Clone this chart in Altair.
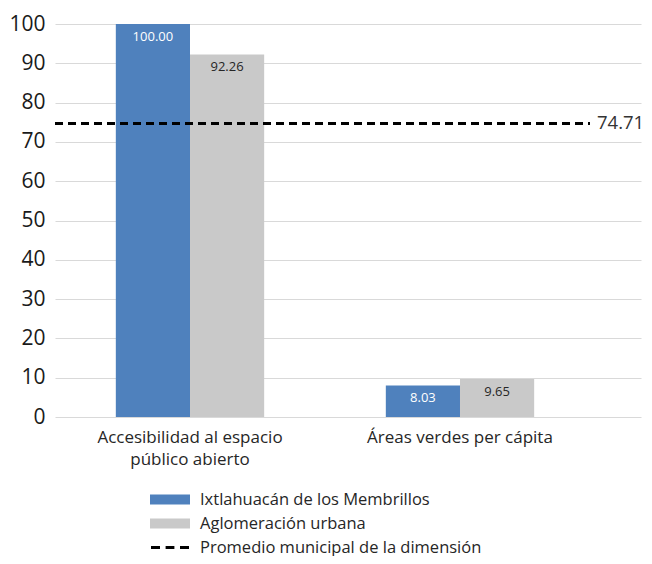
import altair as alt
import pandas as pd

categorias = ["Accesibilidad al espacio público abierto", "Áreas verdes per cápita"]
series = ["Ixtlahuacán de los Membrillos", "Aglomeración urbana"]
valores_municipio = [100.00, 8.03]
valores_aglomeracion = [92.26, 9.65]
promedio = 74.71
serie_linea = "Promedio municipal de la dimensión"

colores = ["#4F81BD", "#C9C9C9", "#000000"]
FONT = "Open Sans"

rows = []
for c, a, b in zip(categorias, valores_municipio, valores_aglomeracion):
    rows.append({"cat": c, "serie": series[0], "valor": a, "txt": f"{a:.2f}", "tc": "white"})
    rows.append({"cat": c, "serie": series[1], "valor": b, "txt": f"{b:.2f}", "tc": "#262626"})
df = pd.DataFrame(rows)

leyenda = pd.DataFrame({"serie": series + [serie_linea], "cat": [categorias[0]] * 3, "valor": [0, 0, 0]})
prom_df = pd.DataFrame({"valor": [promedio], "txt": [f"{promedio:.2f}"]})

label_expr = ("datum.value == 'Accesibilidad al espacio público abierto' ? "
              "['Accesibilidad al espacio', 'público abierto'] : datum.value")

x_axis = alt.Axis(labelAngle=0, domain=False, ticks=False, labelPadding=12, grid=False,
                  labelFontSize=17, labelColor="#262626", labelFont=FONT,
                  labelLineHeight=22, labelExpr=label_expr, labelLimit=400)
y_axis = alt.Axis(values=list(range(0, 101, 10)), domain=False, ticks=False,
                  labelPadding=10, labelFontSize=21, labelColor="#1a1a1a",
                  labelFont=FONT, gridColor="#D9D9D9", gridWidth=1)

x_scale = alt.Scale(domain=categorias, paddingInner=0, paddingOuter=0.0852, align=0)
xo_scale = alt.Scale(domain=series, paddingOuter=0.82, paddingInner=0)
y_scale = alt.Scale(domain=[0, 100])
color_scale = alt.Scale(domain=series + [serie_linea], range=colores)

rect_path = "M-1,-0.25H1V0.25H-1Z"
dash_path = ("M-0.95,-0.07H-0.5V0.07H-0.95Z M-0.22,-0.07H0.22V0.07H-0.22Z "
             "M0.5,-0.07H0.95V0.07H0.5Z")
shape_scale = alt.Scale(domain=series + [serie_linea], range=[rect_path, rect_path, dash_path])

leg = alt.Legend(title=None, orient="none", legendX=95, legendY=463.5,
                 labelFontSize=16.5, labelColor="#262626", labelFont=FONT,
                 symbolSize=1600, symbolStrokeWidth=0, labelOffset=10,
                 rowPadding=0, clipHeight=24, symbolOpacity=1, labelLimit=400)

X = alt.X("cat:N", scale=x_scale, sort=categorias, title=None, axis=x_axis)
Y = alt.Y("valor:Q", scale=y_scale, title=None, axis=y_axis)

bars = alt.Chart(df).mark_bar().encode(
    x=X,
    xOffset=alt.XOffset("serie:N", scale=xo_scale, sort=series),
    y=Y,
    color=alt.Color("serie:N", scale=color_scale, legend=leg),
)

labels = alt.Chart(df).mark_text(baseline="top", dy=7, fontSize=13, font=FONT).encode(
    x=X,
    xOffset=alt.XOffset("serie:N", scale=xo_scale, sort=series),
    y=Y,
    text="txt:N",
    color=alt.Color("tc:N", scale=None),
)

linea = alt.Chart(prom_df).mark_rule(color="black", strokeWidth=3, strokeDash=[8, 5]).encode(
    y=Y,
    x=alt.value(0),
    x2=alt.value(535),
)

linea_txt = alt.Chart(prom_df).mark_text(align="left", baseline="middle", fontSize=18.5,
                                         color="#333333", font=FONT).encode(
    y=Y,
    x=alt.value(542),
    text="txt:N",
)

ley = alt.Chart(leyenda).mark_point(opacity=0, filled=True).encode(
    x=X,
    y=Y,
    color=alt.Color("serie:N", scale=color_scale, legend=leg),
    shape=alt.Shape("serie:N", scale=shape_scale, legend=leg),
)

chart = alt.layer(bars, labels, linea, linea_txt, ley).properties(
    width=586, height=393,
    autosize=alt.AutoSizeParams(type="none"),
    padding={"left": 47, "top": 16, "right": 3, "bottom": 139},
).configure(font=FONT).configure_view(stroke=None)

chart.save("out.html", embed_options={"renderer": "svg", "actions": False})
